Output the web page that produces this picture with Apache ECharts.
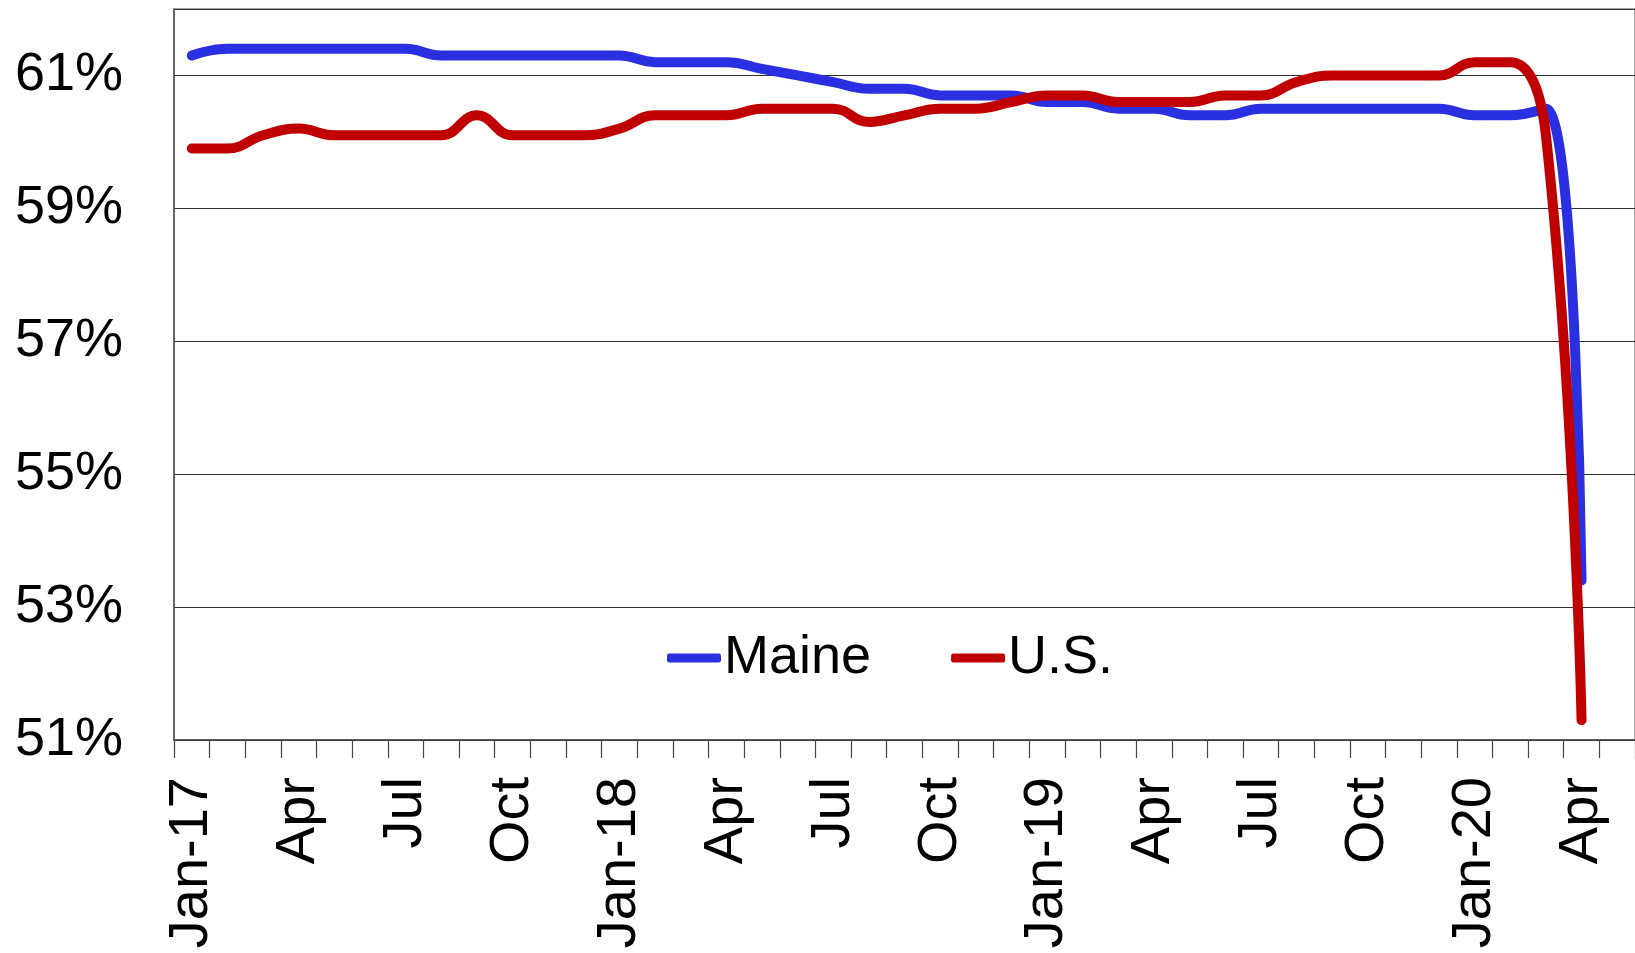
<!DOCTYPE html>
<html>
<head>
<meta charset="utf-8">
<script src="https://cdn.jsdelivr.net/npm/echarts@6/dist/echarts.min.js"></script>
<style>
html,body{margin:0;padding:0;background:#fff;}
#chart{width:1635px;height:953px;}
</style>
</head>
<body>
<div id="chart"></div>
<script>
const months = [
  'Jan-17','Feb','Mar','Apr','May','Jun','Jul','Aug','Sep','Oct','Nov','Dec',
  'Jan-18','Feb','Mar','Apr','May','Jun','Jul','Aug','Sep','Oct','Nov','Dec',
  'Jan-19','Feb','Mar','Apr','May','Jun','Jul','Aug','Sep','Oct','Nov','Dec',
  'Jan-20','Feb','Mar','Apr',''
];
const maine = [
  61.3, 61.4, 61.4, 61.4, 61.4, 61.4, 61.4, 61.3, 61.3, 61.3, 61.3, 61.3,
  61.3, 61.2, 61.2, 61.2, 61.1, 61.0, 60.9, 60.8, 60.8, 60.7, 60.7, 60.7,
  60.6, 60.6, 60.5, 60.5, 60.4, 60.4, 60.5, 60.5, 60.5, 60.5, 60.5, 60.5,
  60.4, 60.4, 60.5, 53.4
];
const us = [
  59.9, 59.9, 60.1, 60.2, 60.1, 60.1, 60.1, 60.1, 60.4, 60.1, 60.1, 60.1,
  60.2, 60.4, 60.4, 60.4, 60.5, 60.5, 60.5, 60.3, 60.4, 60.5, 60.5, 60.6,
  60.7, 60.7, 60.6, 60.6, 60.6, 60.7, 60.7, 60.9, 61.0, 61.0, 61.0, 61.0,
  61.2, 61.2, 60.1, 51.3
];

const chart = echarts.init(document.getElementById('chart'), null, {renderer:'canvas'});
const font = '"Liberation Sans", Arial, sans-serif';
chart.setOption({
  animation: false,
  backgroundColor: '#fff',
  grid: {left: 174, right: -3, top: 9, bottom: 213, show: true, borderColor: '#888', borderWidth: 1.5, backgroundColor: 'transparent'},
  legend: {
    data: ['Maine', 'U.S.'],
    left: 667, top: 631, padding: 0,
    icon: 'roundRect', itemWidth: 54, itemHeight: 9, itemGap: 80,
    textStyle: {fontFamily: font, fontSize: 54, color: '#000', padding: [0,0,0,-2]}
  },
  xAxis: {
    type: 'category', data: months, boundaryGap: true,
    axisLine: {lineStyle: {color: '#444', width: 1.5}},
    axisTick: {show: true, interval: 0, length: 18, lineStyle: {color: '#444', width: 1.2}},
    axisLabel: {interval: 2, rotate: 90, margin: 37, fontFamily: font, fontSize: 56, color: '#000'},
    splitLine: {show: false}
  },
  yAxis: {
    type: 'value', min: 51, max: 62, interval: 2,
    axisLine: {show: true, lineStyle: {color: '#555', width: 1.5}},
    axisTick: {show: false},
    axisLabel: {margin: 51, fontFamily: font, fontSize: 54, color: '#000',
      formatter: v => (Math.round(v) - 51) % 2 === 0 && v < 61.5 ? Math.round(v) + '%' : ''},
    splitLine: {show: true, lineStyle: {color: '#333', width: 1.2}}
  },
  series: [
    {name: 'Maine', type: 'line', data: maine, smooth: 0.45, symbol: 'none', showSymbol: false,
     color: '#2A2FE0', lineStyle: {width: 10, color: '#2A2FE0', cap: 'round', join: 'round'}},
    {name: 'U.S.', type: 'line', data: us, smooth: 0.45, symbol: 'none', showSymbol: false,
     color: '#C00000', lineStyle: {width: 10, color: '#C00000', cap: 'round', join: 'round'}}
  ]
});
</script>
</body>
</html>
